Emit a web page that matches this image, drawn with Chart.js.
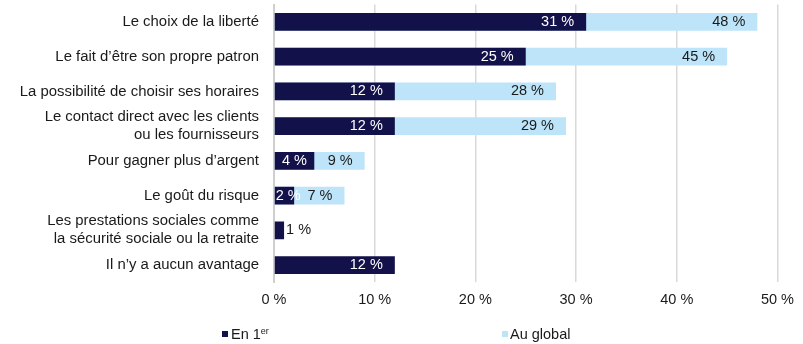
<!DOCTYPE html>
<html lang="fr">
<head>
<meta charset="utf-8">
<script src="https://cdn.jsdelivr.net/npm/chart.js@4/dist/chart.umd.min.js"></script>
<style>
  body { margin: 0; background: #fff; }
  #wrap { position: relative; width: 803px; height: 344px; }
  #legend { position: absolute; left: 0; top: 325px; width: 803px; height: 18px;
            font: 14.5px "Liberation Sans", Arial, sans-serif; color: #1a1a1a; }
  #legend .sw { position: absolute; top: 6px; width: 6px; height: 6px; }
  #legend .lt { position: absolute; top: 0; line-height: 18px; white-space: nowrap; }
  #legend sup { font-size: 9px; vertical-align: 5px; line-height: 0; }
</style>
</head>
<body>
<div id="wrap">
  <canvas id="avantages" width="803" height="344"></canvas>
  <div id="legend">
    <span class="sw" style="left:222px;background:#13114a"></span>
    <span class="lt" style="left:231px">En 1<sup>er</sup></span>
    <span class="sw" style="left:502px;background:#bde4f9"></span>
    <span class="lt" style="left:510px">Au global</span>
  </div>
</div>
<script>
const categories = [
  'Le choix de la liberté',
  'Le fait d\u2019être son propre patron',
  'La possibilité de choisir ses horaires',
  ['Le contact direct avec les clients', 'ou les fournisseurs'],
  'Pour gagner plus d\u2019argent',
  'Le goût du risque',
  ['Les prestations sociales comme', 'la sécurité sociale ou la retraite'],
  'Il n\u2019y a aucun avantage'
];
const enPremier = [31, 25, 12, 12, 4, 2, 1, 12];
const auGlobal = [48, 45, 28, 29, 9, 7, null, null];
const xTicks = [0, 10, 20, 30, 40, 50];

const FONT = '"Liberation Sans", Arial, sans-serif';
const DARK = '#13114a';
const LIGHT = '#bde4f9';
const TEXT = '#1a1a1a';

// value labels: inside the end of the bar, centred or outside when it is too short
const valueLabels = {
  id: 'valueLabels',
  afterDatasetsDraw(chart) {
    const ctx = chart.ctx;
    ctx.save();
    ctx.font = '14.5px ' + FONT;
    ctx.textBaseline = 'middle';
    chart.data.datasets.forEach((ds, di) => {
      const meta = chart.getDatasetMeta(di);
      meta.data.forEach((bar, i) => {
        const v = ds.data[i];
        if (v == null) return;
        const txt = v + ' %';
        const tw = ctx.measureText(txt).width;
        const w = bar.x - bar.base;
        if (di === 1) {
          ctx.fillStyle = TEXT;
          ctx.textAlign = 'right';
          ctx.fillText(txt, bar.x - 12, bar.y);
        } else if (tw + 24 <= w) {
          ctx.fillStyle = '#fff';
          ctx.textAlign = 'right';
          ctx.fillText(txt, bar.x - 12, bar.y);
        } else if (tw <= w + 8) {
          // keep the text clear of the axis line
          const cx = Math.max((bar.x + bar.base) / 2, bar.base + 1 + tw / 2);
          ctx.fillStyle = '#fff';
          ctx.textAlign = 'center';
          ctx.fillText(txt, cx, bar.y);
        } else {
          ctx.fillStyle = TEXT;
          ctx.textAlign = 'left';
          ctx.fillText(txt, bar.x + 2, bar.y);
        }
      });
    });
    ctx.restore();
  }
};

new Chart(document.getElementById('avantages'), {
  type: 'bar',
  data: {
    labels: categories,
    datasets: [
      { label: 'En 1er', data: enPremier, backgroundColor: DARK },
      { label: 'Au global', data: auGlobal, backgroundColor: LIGHT }
    ]
  },
  options: {
    indexAxis: 'y',
    responsive: false,
    animation: false,
    datasets: { bar: { grouped: false, categoryPercentage: 1, barPercentage: 0.51 } },
    layout: { padding: { top: 4.6, right: 25, bottom: 35.6, left: 0 } },
    plugins: { legend: { display: false }, tooltip: { enabled: false } },
    scales: {
      x: {
        min: 0,
        max: 50,
        afterBuildTicks: (scale) => { scale.ticks = xTicks.map(v => ({ value: v })); },
        afterFit: (scale) => { scale.height = 26; },
        grid: { color: '#d9d9d9', lineWidth: 1.5, drawTicks: false },
        border: { display: false },
        ticks: { padding: 9, color: TEXT, font: { family: FONT, size: 14.5 }, callback: v => v + ' %' }
      },
      y: {
        afterFit: (scale) => {
          scale.width = 274;
          scale.paddingTop = 0;
          scale.paddingBottom = 0;
        },
        grid: { display: false, drawTicks: false },
        border: { color: '#cfcfcf', width: 2 },
        ticks: {
          autoSkip: false,
          padding: 15,
          color: TEXT,
          font: { family: FONT, size: 14.9, lineHeight: 1.21 }
        }
      }
    }
  },
  plugins: [valueLabels]
});
</script>
</body>
</html>
